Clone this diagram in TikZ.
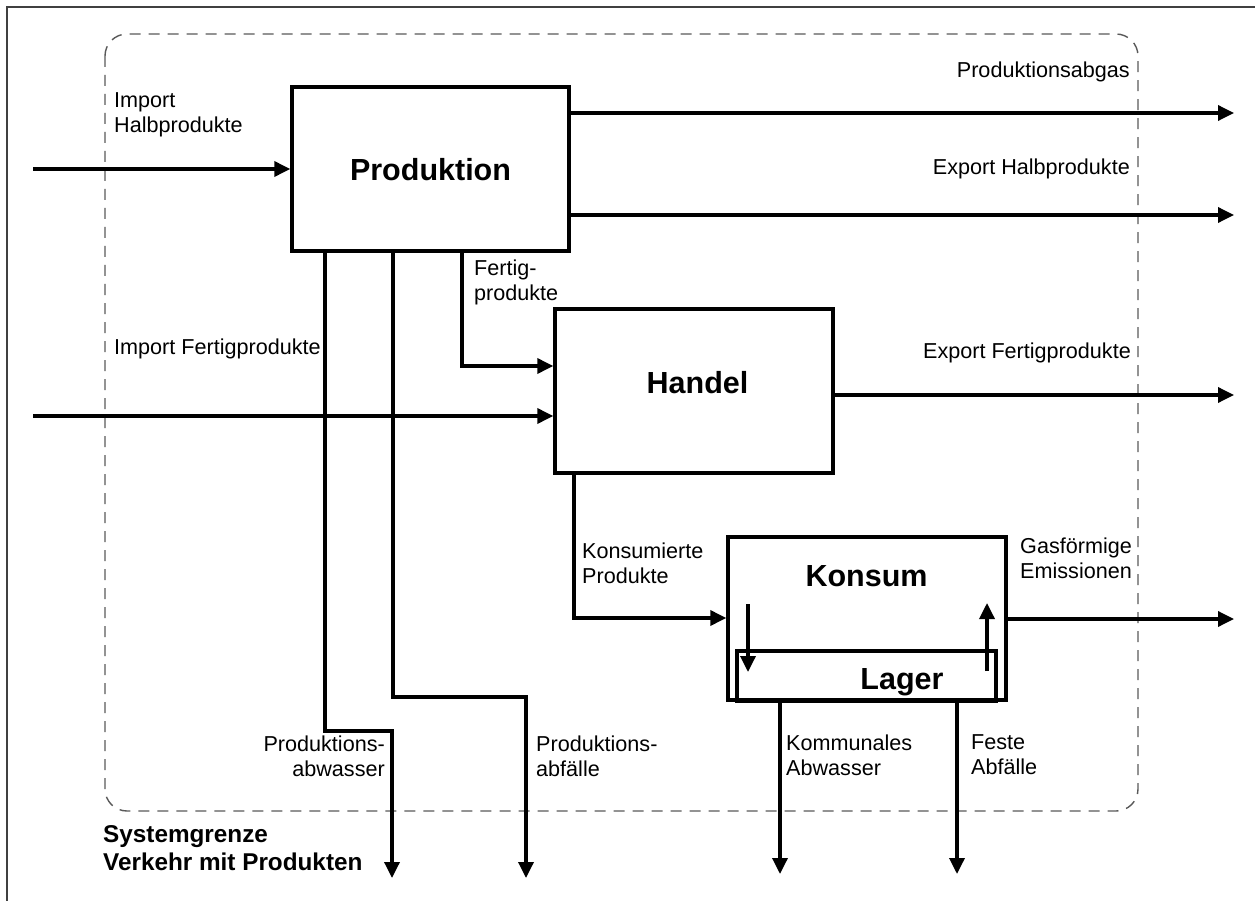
\documentclass[tikz,border=0pt]{standalone}
\usepackage{fontspec}
\setmainfont{Liberation Sans}
\usetikzlibrary{arrows.meta}
\begin{document}
\begin{tikzpicture}[x=1pt,y=-1pt,
  box/.style={draw=black, line width=3.4pt, inner sep=0pt},
  flow/.style={draw=black, line width=3.4pt, -{Triangle[length=16pt,width=15pt]}},
  title/.style={font=\fontsize{30.5}{34}\selectfont\bfseries, inner sep=0pt, anchor=base},
  lbl/.style={font=\fontsize{21.6}{25}\selectfont, inner sep=0pt, execute at begin node=\strut},
  lblL/.style={lbl, align=left, anchor=north west},
  lblR/.style={lbl, align=right, anchor=north east},
  sysgrenze/.style={font=\fontsize{24.3}{27.5}\selectfont\bfseries, inner sep=0pt,
    align=left, anchor=north west, execute at begin node=\strut},
  boundary/.style={draw=black!65, line width=1.4pt, dash pattern=on 11pt off 8pt, rounded corners=22pt},
  frame/.style={draw=black!75, line width=1.4pt},
]
\useasboundingbox (0,0) rectangle (1255,901);

% frame and system boundary
\draw[frame] (7,901) -- (7,7) -- (1255,7);
\draw[boundary] (105,34) rectangle (1138,811);

% processes
\node[box, minimum width=277pt, minimum height=164pt] (prod) at (430.5,169) {};
\node[box, minimum width=278pt, minimum height=164pt] (handel) at (694,391) {};
\node[box, minimum width=278pt, minimum height=163pt] (konsum) at (867,618.5) {};
\node[box, minimum width=259pt, minimum height=50pt] (lager) at (866.5,676) {};

\node[title] (prodtxt) at (430.5,181) {Produktion};
\node[title] (handeltxt) at (697.5,393) {Handel};
\node[title] (konsumtxt) at (866.5,586) {Konsum};
\node[title] (lagertxt) at (902,689) {Lager};

% free ends of the flows
\coordinate (ih) at (33,169);
\coordinate (abgas) at (1234,113);
\coordinate (exhalb) at (1234,215);
\coordinate (fp) at (462,366);
\coordinate (ifp) at (33,416);
\coordinate (exfert) at (1234,395);
\coordinate (kp) at (574,618);
\coordinate (gas) at (1234,619);
\coordinate (pw1) at (325,731);
\coordinate (pw) at (392,878);
\coordinate (pf1) at (393,697);
\coordinate (pf) at (526,878);
\coordinate (kab) at (780,874);
\coordinate (fab) at (957,874);
\coordinate (zu1) at (748,604);
\coordinate (zu2) at (748,672);
\coordinate (ab1) at (987,671);
\coordinate (ab2) at (987,603);

% flows
\draw[flow] (ih) -- (ih -| prod.west);
\draw[flow] (prod.east |- abgas) -- (abgas);
\draw[flow] (prod.east |- exhalb) -- (exhalb);
\draw[flow] (prod.south -| fp) |- (handel.west |- fp);
\draw[flow] (ifp) -- (ifp -| handel.west);
\draw[flow] (handel.east |- exfert) -- (exfert);
\draw[flow] (handel.south -| kp) |- (konsum.west |- kp);
\draw[flow] (konsum.east |- gas) -- (gas);
\draw[flow] (prod.south -| pw1) -- (pw1) -| (pw);
\draw[flow] (prod.south -| pf1) -- (pf1) -| (pf);
\draw[flow] (lager.south -| kab) -- (kab);
\draw[flow] (lager.south -| fab) -- (fab);
\draw[flow] (zu1) -- (zu2);
\draw[flow] (ab1) -- (ab2);

% flow labels
\node[lblL] (l-ih) at (114,92.5) {Import\\Halbprodukte};
\node[lblR] (l-abgas) at (1130,59.5) {Produktionsabgas};
\node[lblR] (l-exhalb) at (1130,156.5) {Export Halbprodukte};
\node[lblL] (l-fp) at (474,260) {Fertig-\\produkte};
\node[lblL] (l-ifp) at (114,336.5) {Import Fertigprodukte};
\node[lblR] (l-exfert) at (1131,341) {Export Fertigprodukte};
\node[lblL] (l-kp) at (582,542.5) {Konsumierte\\Produkte};
\node[lblL] (l-gas) at (1020,537.5) {Gasförmige\\Emissionen};
\node[lblR] (l-pw) at (385,735.5) {Produktions-\\abwasser};
\node[lblL] (l-pf) at (536,735.5) {Produktions-\\abfälle};
\node[lblL] (l-kab) at (786,734.5) {Kommunales\\Abwasser};
\node[lblL] (l-fab) at (971,734.5) {Feste\\Abfälle};
\node[sysgrenze] (l-sys) at (103,825.75) {Systemgrenze\\Verkehr mit Produkten};
\end{tikzpicture}
\end{document}
